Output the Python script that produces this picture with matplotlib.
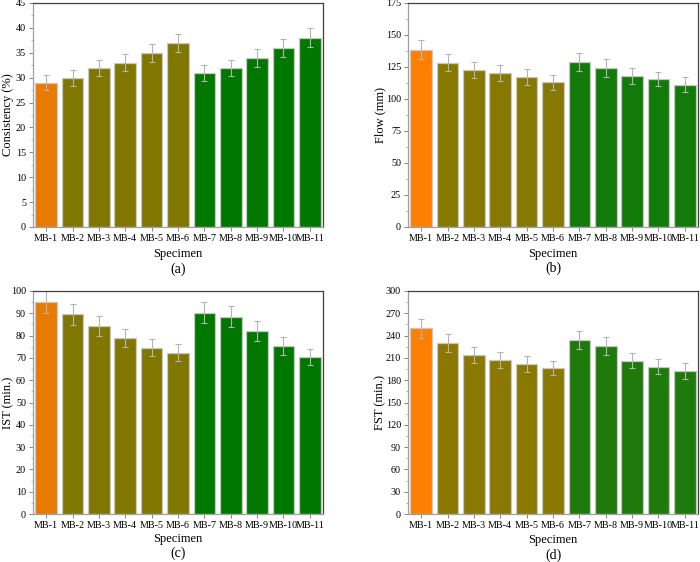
import matplotlib
matplotlib.use('Agg')
import matplotlib.pyplot as plt
from matplotlib.ticker import MultipleLocator, AutoMinorLocator

plt.rcParams['font.family'] = ['Liberation Serif', 'DejaVu Serif']

specimens = ['MB-1', 'MB-2', 'MB-3', 'MB-4', 'MB-5', 'MB-6',
             'MB-7', 'MB-8', 'MB-9', 'MB-10', 'MB-11']

consistency = [29, 30, 32, 33, 35, 37, 31, 32, 34, 36, 38]
consistency_err = [1.5, 1.6, 1.6, 1.7, 1.8, 1.8, 1.6, 1.6, 1.8, 1.8, 1.9]

flow = [138.5, 128.5, 122.5, 120.3, 117, 113, 129, 124.3, 117.8, 115.3, 111.2]
flow_err = [7.4, 6.5, 6.2, 6.2, 6.4, 5.7, 6.8, 6.8, 6.3, 5.5, 5.8]

ist = [95, 89.5, 84.3, 78.8, 74.6, 72.4, 90.3, 88.5, 81.9, 75.2, 70.3]
ist_err = [5, 4.8, 4.3, 4.0, 3.7, 3.8, 4.6, 4.6, 4.5, 4.0, 3.5]

fst = [249.8, 229.6, 213.5, 207.2, 201.8, 196.4, 233.7, 225.6, 206.2, 198.2, 192]
fst_err = [13, 12, 11, 10.5, 10.4, 9.5, 12, 12, 10.3, 9.7, 10.5]

def colors_for(orange, olive, green):
    return [orange] + [olive] * 5 + [green] * 5

panels = [
    # rect (px), values, errors, ylabel, ymax, major, tag, ylabel x (px), xlabel y, tag y, colours
    ([33, 3, 290, 224], consistency, consistency_err, 'Consistency (%)', 45, 5, '(a)',
     8, 254, 269, colors_for('#E87A00', '#807700', '#007800')),
    ([408, 3, 290, 224], flow, flow_err, 'Flow (mm)', 175, 25, '(b)',
     380, 254, 268, colors_for('#FF8000', '#867800', '#127A08')),
    ([33, 291, 290, 223], ist, ist_err, 'IST (min.)', 100, 10, '(c)',
     8, 539, 553, colors_for('#E87A00', '#807700', '#007800')),
    ([408, 291, 290, 223], fst, fst_err, 'FST (min.)', 300, 30, '(d)',
     380, 540, 555, colors_for('#FF8000', '#8A7800', '#1E7A0A')),
]

W, H = 700, 562
fig = plt.figure(figsize=(7, 5.62), dpi=100)

for rect, vals, errs, ylab, ymax, major, tag, ylx, xly, tagy, cols in panels:
    x0, y0, w, h = rect
    ax = fig.add_axes([x0 / W, 1 - (y0 + h) / H, w / W, h / H])
    xs = range(len(specimens))
    ax.bar(xs, vals, width=0.82, color=cols, edgecolor='#c8c8c8', linewidth=0.9,
           yerr=errs, capsize=2,
           error_kw=dict(ecolor='#b4b4b4', elinewidth=0.8, capthick=0.8))
    ax.set_xlim(-0.5, len(specimens) - 0.5)
    ax.set_ylim(0, ymax)
    ax.yaxis.set_major_locator(MultipleLocator(major))
    ax.yaxis.set_minor_locator(AutoMinorLocator(2))
    ax.set_xticks(list(xs))
    ax.set_xticklabels(specimens)
    ax.tick_params(axis='both', labelsize=7.3, length=3, width=0.6,
                   color='#707070', pad=2)
    ax.tick_params(axis='y', which='minor', length=1.8, width=0.5, color='#909090')
    for side in ['top', 'right']:
        ax.spines[side].set_color('#404040')
        ax.spines[side].set_linewidth(0.9)
    for side in ['left', 'bottom']:
        ax.spines[side].set_color('#a0a0a0')
        ax.spines[side].set_linewidth(0.9)
    ax.set_ylabel(ylab, fontsize=9, va='center')
    ax.yaxis.set_label_coords((ylx - x0) / w, 0.5)
    ax.set_xlabel('Specimen', fontsize=9, va='center')
    ax.xaxis.set_label_coords(0.5, -(xly - (y0 + h)) / h)
    ax.text(0.5, -(tagy - (y0 + h)) / h, tag, transform=ax.transAxes,
            ha='center', va='center', fontsize=10)

fig.savefig('out.png', dpi=100)
